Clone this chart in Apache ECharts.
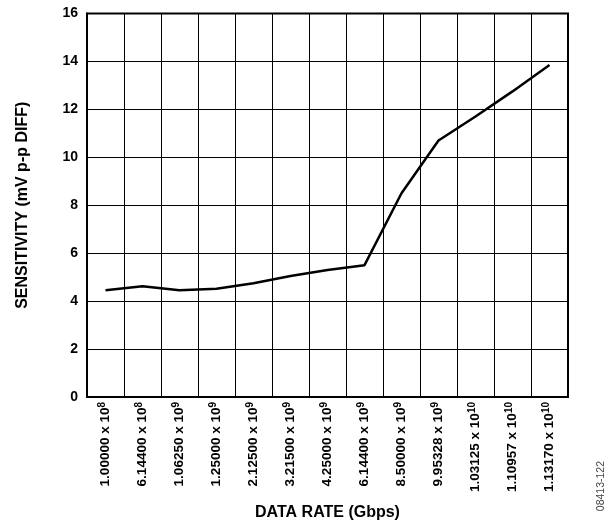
<!DOCTYPE html>
<html>
<head>
<meta charset="utf-8">
<script src="https://cdn.jsdelivr.net/npm/echarts@6/dist/echarts.min.js"></script>
<style>html,body{margin:0;padding:0;background:#fff;}#c{width:614px;height:520px;}</style>
</head>
<body>
<div id="c"></div>
<script>
const mantissas = ['1.00000','6.14400','1.06250','1.25000','2.12500','3.21500','4.25000','6.14400','8.50000','9.95328','1.03125','1.10957','1.13170'];
const exponents = ['8','8','9','9','9','9','9','9','9','9','10','10','10'];
const sensitivity = [4.45, 4.62, 4.45, 4.52, 4.75, 5.05, 5.3, 5.5, 8.5, 10.7, 11.7, 12.75, 13.85];
const yTicks = [0, 2, 4, 6, 8, 10, 12, 14, 16];

const categories = mantissas.map((m, i) => m + ' x 10' + exponents[i]);
const font = '"Liberation Sans", Arial, sans-serif';

const chart = echarts.init(document.getElementById('c'), null, {renderer: 'canvas'});
chart.setOption({
  animation: false,
  backgroundColor: '#fff',
  grid: {left: 87, right: 46, top: 13.5, bottom: 123, containLabel: false, outerBoundsMode: 'none', show: true, borderColor: '#000', borderWidth: 2},
  xAxis: {
    type: 'category',
    data: categories,
    boundaryGap: true,
    name: 'DATA RATE (Gbps)',
    nameLocation: 'middle',
    nameGap: 108,
    nameTextStyle: {fontFamily: font, fontWeight: 'bold', fontSize: 16, color: '#000'},
    axisLine: {show: true, lineStyle: {color: '#000', width: 2}},
    axisTick: {show: false},
    splitLine: {show: true, lineStyle: {color: '#000', width: 1}},
    axisLabel: {
      rotate: 90,
      margin: 5,
      interval: 0,
      fontFamily: font, fontWeight: 'bold', fontSize: 13.5, color: '#000',
      formatter: function (v, i) {
        return '{b|' + mantissas[i] + ' x 10}{s|' + exponents[i] + '}';
      },
      rich: {
        b: {fontFamily: font, fontWeight: 'bold', fontSize: 13.5, color: '#000'},
        s: {fontFamily: font, fontWeight: 'bold', fontSize: 10, color: '#000', padding: [0, 0, 7, 0]}
      }
    }
  },
  yAxis: {
    type: 'value',
    min: 0, max: 16, interval: 2,
    name: 'SENSITIVITY (mV p-p DIFF)',
    nameLocation: 'middle',
    nameGap: 56,
    nameTextStyle: {fontFamily: font, fontWeight: 'bold', fontSize: 16, color: '#000'},
    axisLine: {show: true, lineStyle: {color: '#000', width: 2}},
    axisTick: {show: false},
    splitLine: {show: true, lineStyle: {color: '#000', width: 1}},
    axisLabel: {
      margin: 9,
      fontFamily: font, fontWeight: 'bold', fontSize: 14, color: '#000',
      formatter: function (v) { return yTicks.indexOf(v) >= 0 ? String(v) : ''; }
    }
  },
  graphic: [{
    type: 'text',
    left: 596, top: 461,
    rotation: Math.PI / 2,
    style: {text: '08413-122', fontFamily: font, fontSize: 10.5, fill: '#444'}
  }],
  series: [{
    type: 'line',
    data: sensitivity,
    symbol: 'none',
    smooth: false,
    lineStyle: {color: '#000', width: 2.5},
    z: 5
  }]
});
</script>
</body>
</html>
